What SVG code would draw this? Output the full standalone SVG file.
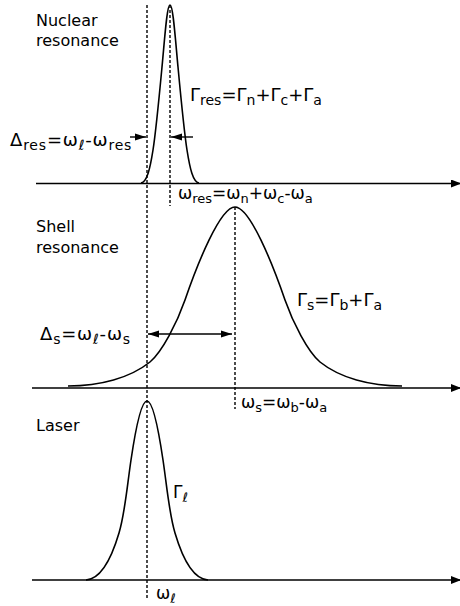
<svg xmlns="http://www.w3.org/2000/svg" width="460" height="606" viewBox="0 0 460 606">
<style>
text{font-family:"DejaVu Sans","Liberation Sans",sans-serif;fill:#000}
.t{font-size:16px}
.f{font-size:17px}
.g{font-size:18px}
.d{font-size:18px;letter-spacing:0.8px}
.s{font-size:13px}
.g .s,.d .s{font-size:14px}
.ax{stroke:#000;stroke-width:1.7;fill:none}
.cv{stroke:#000;stroke-width:1.6;fill:none}
.dl{stroke:#000;stroke-width:1.4;stroke-dasharray:3,2;fill:none}
.ar{stroke:#000;stroke-width:1.4;fill:none}
</style>
<defs>
<marker id="mAx" markerUnits="userSpaceOnUse" markerWidth="10" markerHeight="8" refX="9" refY="4" orient="auto">
<path d="M0,0 L10,4 L0,8 z" fill="#000"/>
</marker>
<marker id="mAr" markerUnits="userSpaceOnUse" markerWidth="12" markerHeight="8" refX="11" refY="4" orient="auto-start-reverse">
<path d="M0,0.5 L11,4 L0,7.5 z" fill="#000"/>
</marker>
</defs>
<rect width="460" height="606" fill="#fff"/>

<g id="axes">
<line class="ax" x1="36" y1="183.5" x2="460" y2="183.5" marker-end="url(#mAx)"/>
<line class="ax" x1="32" y1="388" x2="460" y2="388" marker-end="url(#mAx)"/>
<line class="ax" x1="32" y1="580" x2="460" y2="580" marker-end="url(#mAx)"/>
</g>

<g id="guides">
<line class="dl" x1="147" y1="5" x2="147" y2="600"/>
<line class="dl" x1="170" y1="5" x2="170" y2="206"/>
<line class="dl" x1="235" y1="207" x2="235" y2="409"/>
</g>

<g id="nuclear">
<path class="cv" d="M141,183 C147,182 150,169 153,150 C156,131 159,99 162,67 C165,35 167,5 170,5 C173,5 175,35 178,67 C181,99 184,131 187,150 C190,169 193,182 199,183"/>
<text class="t" x="36" y="26">Nuclear</text>
<text class="t" x="36" y="45.5">resonance</text>
<text class="g" x="190" y="101">Γ<tspan class="s" dy="4">res</tspan><tspan dy="-4">=Γ</tspan><tspan class="s" dy="4">n</tspan><tspan dy="-4">+Γ</tspan><tspan class="s" dy="4">c</tspan><tspan dy="-4">+Γ</tspan><tspan class="s" dy="4">a</tspan></text>
<text class="f" x="178" y="199">ω<tspan class="s" dy="4">res</tspan><tspan dy="-4">=ω</tspan><tspan class="s" dy="4">n</tspan><tspan dy="-4">+ω</tspan><tspan class="s" dy="4">c</tspan><tspan dy="-4">-ω</tspan><tspan class="s" dy="4">a</tspan></text>
<text class="d" x="10" y="146">Δ<tspan class="s" dy="4">res</tspan><tspan dy="-4">=ω</tspan><tspan class="s" dy="4">ℓ</tspan><tspan dy="-4">-ω</tspan><tspan class="s" dy="4">res</tspan></text>
</g>

<g id="shell">
<path class="cv" d="M68,386 C100,386 130,378 150,362 C162,352 177,323 185,300 C197,265 220,207 235,207 C250,207 273,265 285,300 C293,323 308,352 320,362 C340,378 370,386 402,386"/>
<text class="t" x="36" y="232">Shell</text>
<text class="t" x="36" y="252.5">resonance</text>
<text class="g" x="297" y="306">Γ<tspan class="s" dy="4">s</tspan><tspan dy="-4">=Γ</tspan><tspan class="s" dy="4">b</tspan><tspan dy="-4">+Γ</tspan><tspan class="s" dy="4">a</tspan></text>
<text class="d" x="40" y="340">Δ<tspan class="s" dy="4">s</tspan><tspan dy="-4">=ω</tspan><tspan class="s" dy="4">ℓ</tspan><tspan dy="-4">-ω</tspan><tspan class="s" dy="4">s</tspan></text>
<text class="f" x="241" y="408">ω<tspan class="s" dy="4">s</tspan><tspan dy="-4">=ω</tspan><tspan class="s" dy="4">b</tspan><tspan dy="-4">-ω</tspan><tspan class="s" dy="4">a</tspan></text>
</g>

<g id="laser">
<path class="cv" d="M86,580 C101,579 111,560 119,533 C125,513 127,487 131,460 C135,433 141,401 147,401 C153,401 159,433 163,460 C167,487 169,513 175,533 C183,560 193,579 208,580"/>
<text class="t" x="36" y="431">Laser</text>
<text class="f" x="173" y="498">Γ<tspan class="s" dy="4">ℓ</tspan></text>
<text class="f" x="156" y="599">ω<tspan class="s" dy="4">ℓ</tspan></text>
</g>

<g id="connectors">
<line class="ar" x1="130" y1="137" x2="146" y2="137" marker-end="url(#mAr)"/>
<line class="ar" x1="193" y1="137" x2="171" y2="137" marker-end="url(#mAr)"/>
<line class="ar" x1="148" y1="334" x2="232" y2="334" marker-start="url(#mAr)" marker-end="url(#mAr)"/>
</g>
</svg>
